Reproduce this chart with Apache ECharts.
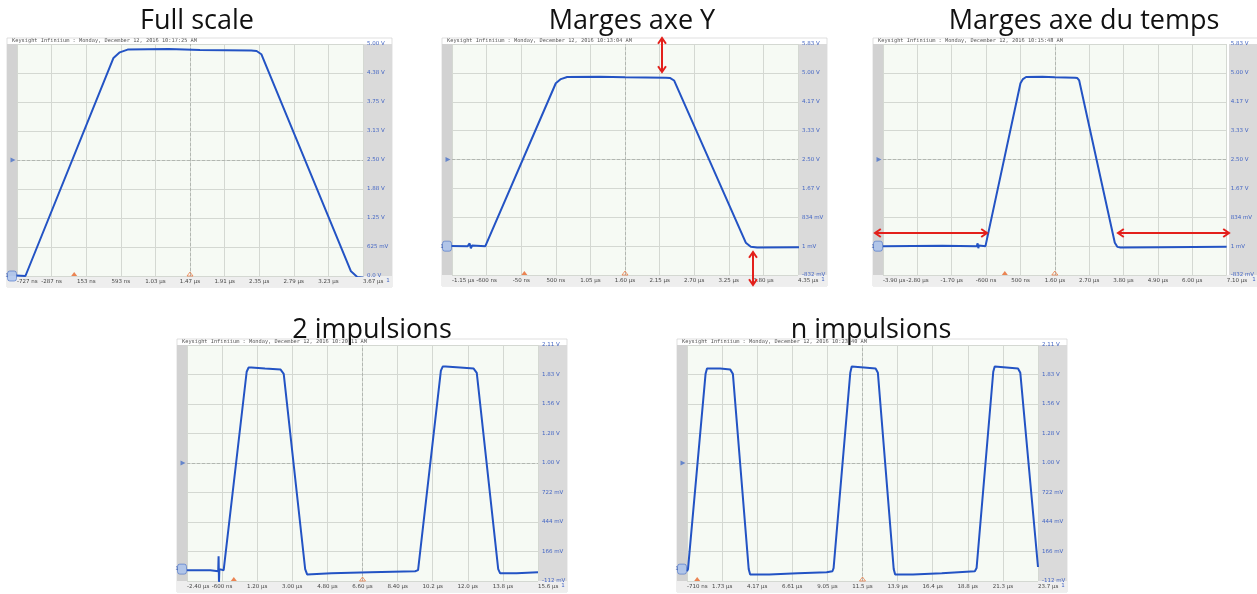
<!DOCTYPE html>
<html><head><meta charset="utf-8">
<script src="https://cdn.jsdelivr.net/npm/echarts@6/dist/echarts.min.js"></script>
<style>html,body{margin:0;padding:0;background:#fff}#c{width:1257px;height:594px}</style>
</head><body><div id="c"></div>
<script>
// ---------- data ----------
const panelTitles = ["Full scale", "Marges axe Y", "Marges axe du temps", "2 impulsions", "n impulsions"];
const headerTimes = ["10:17:25 AM", "10:13:04 AM", "10:15:48 AM", "10:20:11 AM", "10:23:40 AM"];

// single pulse (µs, V) — used by the first three captures
const pulseTime = [-3.90, -2.00, -0.90, -0.87, -0.85, -0.83, -0.62, 0.50, 0.58, 0.68, 1.20, 1.60, 2.25, 2.32, 2.38, 3.52, 3.60, 3.70, 5.00, 7.10];
const pulseVolt = [0.00, 0.01, 0.00, 0.08, -0.06, 0.02, 0.00, 4.70, 4.82, 4.88, 4.89, 4.87, 4.86, 4.85, 4.78, 0.10, -0.02, -0.04, -0.03, -0.02];

// two pulses (µs, V)
const twoTime = [-2.40, -1.20, -0.80, -0.78, -0.76, -0.74, -0.52, 0.66, 0.76, 0.90, 1.60, 2.40, 2.48, 2.56, 3.66, 3.76, 5.00, 7.00, 9.30, 9.45, 9.52, 10.62, 10.72, 10.86, 11.60, 12.30, 12.38, 12.46, 13.56, 13.66, 14.50, 15.60];
const twoVolt = [-0.01, -0.01, -0.02, 0.12, -0.12, 0.00, -0.01, 1.86, 1.90, 1.90, 1.89, 1.88, 1.87, 1.84, 0.00, -0.05, -0.04, -0.03, -0.02, -0.01, 0.00, 1.87, 1.91, 1.91, 1.90, 1.89, 1.89, 1.85, 0.00, -0.04, -0.04, -0.03];

// n pulses (µs, V)
const nTime = [-0.71, -0.64, 0.58, 0.68, 0.80, 1.60, 2.30, 2.40, 2.48, 3.58, 3.68, 5.00, 7.00, 9.00, 9.40, 9.48, 10.64, 10.74, 10.86, 11.60, 12.40, 12.48, 12.56, 13.66, 13.76, 15.00, 17.00, 19.30, 19.42, 20.58, 20.68, 20.80, 21.50, 22.30, 22.38, 22.46, 23.69];
const nVolt = [-0.02, 0.00, 1.84, 1.89, 1.90, 1.89, 1.88, 1.87, 1.84, 0.00, -0.05, -0.05, -0.04, -0.03, -0.02, 0.01, 1.85, 1.91, 1.91, 1.90, 1.89, 1.88, 1.85, 0.00, -0.05, -0.05, -0.04, -0.02, 0.01, 1.86, 1.91, 1.91, 1.90, 1.89, 1.89, 1.85, 0.02];

// tick labels (10 time divisions, 8 voltage divisions)
const xLabels1 = ["-727 ns", "-287 ns", "153 ns", "593 ns", "1.03 µs", "1.47 µs", "1.91 µs", "2.35 µs", "2.79 µs", "3.23 µs", "3.67 µs"];
const xLabels2 = ["-1.15 µs", "-600 ns", "-50 ns", "500 ns", "1.05 µs", "1.60 µs", "2.15 µs", "2.70 µs", "3.25 µs", "3.80 µs", "4.35 µs"];
const xLabels3 = ["-3.90 µs", "-2.80 µs", "-1.70 µs", "-600 ns", "500 ns", "1.60 µs", "2.70 µs", "3.80 µs", "4.90 µs", "6.00 µs", "7.10 µs"];
const xLabels4 = ["-2.40 µs", "-600 ns", "1.20 µs", "3.00 µs", "4.80 µs", "6.60 µs", "8.40 µs", "10.2 µs", "12.0 µs", "13.8 µs", "15.6 µs"];
const xLabels5 = ["-710 ns", "1.73 µs", "4.17 µs", "6.61 µs", "9.05 µs", "11.5 µs", "13.9 µs", "16.4 µs", "18.8 µs", "21.3 µs", "23.7 µs"];
const yLabelsFull = ["0.0 V", "625 mV", "1.25 V", "1.88 V", "2.50 V", "3.13 V", "3.75 V", "4.38 V", "5.00 V"];
const yLabelsMargin = ["-832 mV", "1 mV", "834 mV", "1.67 V", "2.50 V", "3.33 V", "4.17 V", "5.00 V", "5.83 V"];
const yLabelsPulse = ["-112 mV", "166 mV", "444 mV", "722 mV", "1.00 V", "1.28 V", "1.56 V", "1.83 V", "2.11 V"];

// axis extents (µs / V)
const timeMin = [-0.727, -1.15, -3.90, -2.40, -0.71];
const timeMax = [3.673, 4.35, 7.10, 15.60, 23.69];
const voltMin = [0.0, -0.832, -0.832, -0.112, -0.112];
const voltMax = [5.0, 5.832, 5.832, 2.112, 2.112];
const triggerTime = [0, 0, 0, 0, 0];
const triggerLevel = [2.5, 2.5, 2.5, 1.0, 1.0];

// ---------- layout ----------
const geom = [
  {l: 17, t: 44, w: 346, h: 232},
  {l: 452, t: 44, w: 346, h: 231},
  {l: 883, t: 44, w: 346, h: 231},
  {l: 187, t: 345, w: 351, h: 236},
  {l: 687, t: 345, w: 351, h: 236}
];
const titlePos = [[197, 21], [632, 21], [1084, 21], [372, 330], [871, 330]];
const traces = [[pulseTime, pulseVolt], [pulseTime, pulseVolt], [pulseTime, pulseVolt], [twoTime, twoVolt], [nTime, nVolt]];
const xLabelSets = [xLabels1, xLabels2, xLabels3, xLabels4, xLabels5];
const yLabelSets = [yLabelsFull, yLabelsMargin, yLabelsMargin, yLabelsPulse, yLabelsPulse];

const zip = (a, b) => a.map((v, i) => [v, b[i]]);
const grids = [], xAxes = [], yAxes = [], series = [], graphics = [];
const BLUE = '#2353c4';

geom.forEach((g, i) => {
  // frame
  const L = g.l - 10, R = g.l + g.w + 29, T = g.t - 6, B = g.t + g.h + 11;
  graphics.push({type: 'rect', z: -10, shape: {x: L, y: T, width: R - L, height: B - T}, style: {fill: '#ffffff', stroke: '#c9c9c9', lineWidth: 0.6}});
  graphics.push({type: 'rect', z: -9, shape: {x: L, y: g.t, width: 10, height: g.h}, style: {fill: '#d2d2d2'}});
  graphics.push({type: 'rect', z: -9, shape: {x: g.l + g.w, y: g.t, width: 29, height: g.h}, style: {fill: '#dadada'}});
  graphics.push({type: 'rect', z: -9, shape: {x: L, y: g.t + g.h, width: R - L, height: 11}, style: {fill: '#eeeeee'}});
  graphics.push({type: 'text', z: 5, x: g.l - 5, y: T + 3, style: {text: 'Keysight Infiniium : Monday, December 12, 2016 ' + headerTimes[i], font: '5.3px "DejaVu Sans Mono"', fill: '#555', textVerticalAlign: 'middle'}});
  graphics.push({type: 'text', z: 5, x: R - 4, y: g.t + g.h + 5, style: {text: '1', font: '5.5px "DejaVu Sans"', fill: '#4466c4', textAlign: 'center', textVerticalAlign: 'middle'}});
  graphics.push({type: 'text', z: 20, x: titlePos[i][0], y: titlePos[i][1], style: {text: panelTitles[i], font: '27px "Open Sans"', fill: '#111', textAlign: 'center', textVerticalAlign: 'middle'}});

  grids.push({left: g.l, top: g.t, width: g.w, height: g.h, show: true, backgroundColor: '#f6faf4', borderWidth: 0, containLabel: false});
  xAxes.push({type: 'value', gridIndex: i, min: timeMin[i], max: timeMax[i], show: false});
  const xl = xLabelSets[i];
  xAxes.push({type: 'value', gridIndex: i, min: 0, max: 10, interval: 1, position: 'bottom',
    axisLine: {show: false}, axisTick: {show: false},
    splitLine: {show: true, lineStyle: {color: '#d4d8d2', width: 1}},
    axisLabel: {formatter: v => xl[Math.round(v)], fontSize: 5.5, color: '#454545', margin: 2.5, alignMinLabel: 'left', alignMaxLabel: 'left', fontFamily: 'DejaVu Sans'}});
  yAxes.push({type: 'value', gridIndex: i, min: voltMin[i], max: voltMax[i], show: false});
  const yl = yLabelSets[i];
  yAxes.push({type: 'value', gridIndex: i, min: 0, max: 8, interval: 1, position: 'right',
    axisLine: {show: false}, axisTick: {show: false},
    splitLine: {show: true, lineStyle: {color: '#d4d8d2', width: 1}},
    axisLabel: {formatter: v => yl[Math.round(v)], fontSize: 5.5, color: '#4466c4', margin: 4, align: 'left', fontFamily: 'DejaVu Sans'}});

  const xd = 2 * i, xg = 2 * i + 1;
  // center dashed graticule lines
  series.push({type: 'line', xAxisIndex: xg, yAxisIndex: xg, data: [[5, 4]], showSymbol: false, lineStyle: {opacity: 0}, silent: true, animation: false,
    markLine: {silent: true, symbol: 'none', animation: false, label: {show: false},
      lineStyle: {type: [3, 2], color: '#a9aea8', width: 0.8}, data: [{xAxis: 5}, {yAxis: 4}]}});
  // waveform
  series.push({type: 'line', xAxisIndex: xd, yAxisIndex: xd, data: zip(traces[i][0], traces[i][1]), showSymbol: false, clip: true,
    lineStyle: {color: BLUE, width: 2}, silent: true, animation: false, z: 5});
  // trigger position & time reference markers
  series.push({type: 'scatter', xAxisIndex: xd, yAxisIndex: xd, clip: false, silent: true, animation: false, z: 6,
    data: [
      {value: [triggerTime[i], voltMin[i]], symbol: 'triangle', symbolSize: [6, 4], symbolOffset: [0, -2], itemStyle: {color: '#e8672a'}},
      {value: [(timeMin[i] + timeMax[i]) / 2, voltMin[i]], symbol: 'triangle', symbolSize: [6, 4], symbolOffset: [0, -2], itemStyle: {color: 'rgba(0,0,0,0)', borderColor: '#e8672a', borderWidth: 0.8}},
      {value: [timeMin[i], 0], symbol: 'roundRect', symbolSize: [9, 10], symbolOffset: [-5, 0], itemStyle: {color: '#a9c2ee', borderColor: '#4a72c8', borderWidth: 0.8},
        label: {show: true, position: 'inside', formatter: '1', fontSize: 5, color: '#2a4ea8', offset: [-5, 0]}},
      {value: [timeMin[i], triggerLevel[i]], symbol: 'triangle', symbolRotate: -90, symbolSize: [5, 5], symbolOffset: [-4, 0], itemStyle: {color: '#4a72c8'}}
    ]});
});

// red annotation arrows (double-headed)
function arrow(x1, y1, x2, y2) {
  const a = Math.atan2(y2 - y1, x2 - x1), s = 7, sp = 0.6;
  const head = (x, y, ang) => ({type: 'polyline', z: 30, shape: {points: [[x + s * Math.cos(ang + sp), y + s * Math.sin(ang + sp)], [x, y], [x + s * Math.cos(ang - sp), y + s * Math.sin(ang - sp)]]}, style: {stroke: '#e3201b', lineWidth: 2, fill: null}});
  graphics.push({type: 'line', z: 30, shape: {x1, y1, x2, y2}, style: {stroke: '#e3201b', lineWidth: 2}});
  graphics.push(head(x1, y1, a));
  graphics.push(head(x2, y2, a + Math.PI));
}
arrow(662, 38, 662, 72);
arrow(753, 252, 753, 285);
arrow(875, 233, 987, 233);
arrow(1118, 233, 1229, 233);

const chart = echarts.init(document.getElementById('c'), null, {renderer: 'canvas'});
chart.setOption({
  animation: false,
  backgroundColor: '#ffffff',
  grid: grids, xAxis: xAxes, yAxis: yAxes, series: series, graphic: graphics
});
</script>
</body></html>
